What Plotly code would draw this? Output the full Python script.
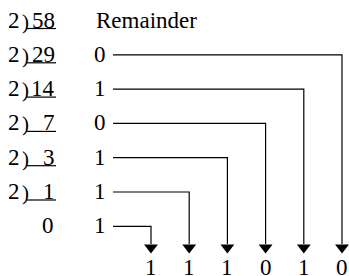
import plotly.graph_objects as go

# ---- data ----
divisor = 2
quotients = [58, 29, 14, 7, 3, 1, 0]
remainders = [0, 1, 0, 1, 1, 1]          # remainders shown beside 29, 14, 7, 3, 1, 0
binary_digits = ["1", "1", "1", "0", "1", "0"]
header = "Remainder"

# ---- layout constants ----
W, H = 349, 276
FONT = "Liberation Serif"
FS = 23
row_y0, row_dy = 20, 34.3
num_right = 57
rem_x = 99.5
line_x0 = 113
col_x0, col_dx = 151, 38.2
tip_y = 252
result_y = 267

fig = go.Figure()
ann = []

def ry(i):
    return row_y0 + row_dy * i

for i, q in enumerate(quotients):
    y = ry(i)
    if i < len(quotients) - 1:
        ann.append(dict(x=14, y=y, text=str(divisor), xanchor="center"))
        ann.append(dict(x=25, y=y + 1.5, text=")", xanchor="center", size=21))
        ann.append(dict(x=num_right, y=y, text=str(q), xanchor="right"))
        fig.add_trace(go.Scatter(x=[26.5, num_right - 1], y=[y + 8.5, y + 8.5], mode="lines",
                                 line=dict(color="black", width=1.2), hoverinfo="skip"))
    else:
        ann.append(dict(x=num_right - 1, y=y, text=str(q), xanchor="right"))

ann.append(dict(x=94, y=ry(0), text=header, xanchor="left"))

n = len(remainders)
xs = [col_x0 + col_dx * j for j in range(n)]
for k, r in enumerate(remainders):
    i = k + 1
    y = ry(i)
    ann.append(dict(x=rem_x, y=y, text=str(r), xanchor="center"))
    cx = xs[n - 1 - k]
    ly = y + 0.5
    fig.add_trace(go.Scatter(x=[line_x0, cx, cx], y=[ly, ly, tip_y - 8], mode="lines",
                             line=dict(color="black", width=1.2), hoverinfo="skip"))

fig.add_trace(go.Scatter(x=xs, y=[tip_y - 4.5] * n, mode="markers",
                         marker=dict(symbol="triangle-down", size=12, color="black",
                                     line=dict(width=0)), hoverinfo="skip"))

for j, d in enumerate(binary_digits):
    ann.append(dict(x=xs[j], y=result_y, text=d, xanchor="center"))

for a in ann:
    sz = a.pop("size", FS)
    a.update(xref="x", yref="y", yanchor="middle", showarrow=False,
             font=dict(family=FONT, size=sz, color="black"))

fig.update_layout(
    width=W, height=H, margin=dict(l=0, r=0, t=0, b=0),
    paper_bgcolor="white", plot_bgcolor="white", showlegend=False,
    font=dict(family=FONT),
    xaxis=dict(range=[0, W], visible=False, fixedrange=True),
    yaxis=dict(range=[H, 0], visible=False, fixedrange=True),
    annotations=ann,
)
fig.write_html("out.html", config={"displayModeBar": False},
               post_script="document.body.style.margin='0';document.body.style.overflow='hidden';")
